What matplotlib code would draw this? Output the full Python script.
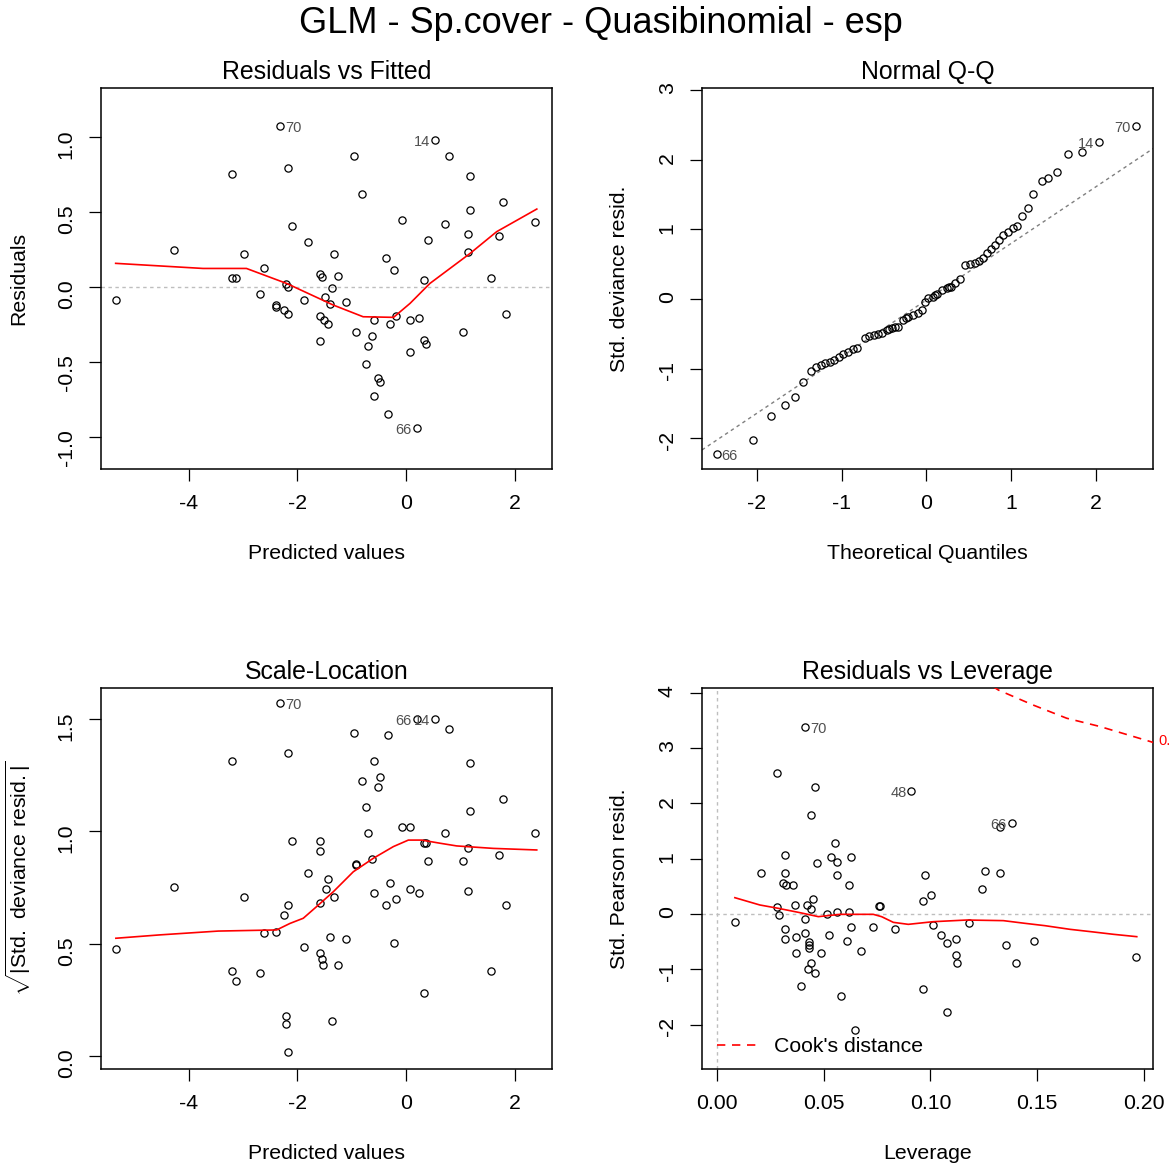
import numpy as np
import matplotlib
matplotlib.use('Agg')
import matplotlib.pyplot as plt
from matplotlib.lines import Line2D

plt.rcParams['font.family'] = ['Liberation Sans', 'DejaVu Sans']
plt.rcParams['mathtext.fontset'] = 'custom'
plt.rcParams['mathtext.rm'] = 'Liberation Sans'
plt.rcParams['axes.unicode_minus'] = False

# -------------------------------------------------------------------------
# Residuals vs Fitted
# -------------------------------------------------------------------------
fit1 = [-5.35, -4.28, -3.20, -3.20, -3.13, -2.99, -2.69, -2.62, -2.40, -2.40,
        -2.25, -2.17, -2.32, -2.17, -2.21, -2.17, -2.10, -1.88, -1.81, -1.59,
        -1.55, -1.585, -1.51, -1.44, -1.585, -1.50, -1.40, -1.36, -1.32, -1.25,
        -1.106, -0.952, -0.915, -0.805, -0.737, -0.694, -0.62, -0.59, -0.59, -0.516,
        -0.474, -0.369, -0.326, -0.289, -0.221, -0.178, -0.068, 0.074, 0.08, 0.197,
        0.233, 0.338, 0.338, 0.374, 0.411, 0.529, 0.713, 0.787, 1.045, 1.149,
        1.149, 1.186, 1.186, 1.56, 1.71, 1.78, 1.85, 2.37]
res1 = [-0.089, 0.247, 0.753, 0.06, 0.06, 0.22, -0.047, 0.127, -0.12, -0.13,
        -0.153, -0.18, 1.073, 0.793, 0.02, 0.0, 0.404, -0.089, 0.30, 0.087,
        0.069, -0.19, -0.22, -0.247, -0.358, -0.067, -0.113, -0.007, 0.22, 0.073,
        -0.102, 0.873, -0.30, 0.62, -0.516, -0.396, -0.329, -0.222, -0.729, -0.607,
        -0.633, 0.193, -0.849, -0.249, 0.111, -0.196, 0.447, -0.222, -0.436, -0.942,
        -0.209, 0.047, -0.351, -0.378, 0.313, 0.982, 0.42, 0.873, -0.30, 0.353,
        0.233, 0.74, 0.513, 0.06, 0.34, 0.567, -0.182, 0.433]
smooth1_x = [-5.35, -3.74, -2.94, -2.20, -1.34, -0.79, -0.23, 0.074, 0.44, 1.18, 1.67, 2.41]
smooth1_y = [0.158, 0.124, 0.124, 0.024, -0.12, -0.198, -0.202, -0.109, 0.024, 0.224, 0.369, 0.52]
ids1 = [('70', -2.32, 1.073, 'right'), ('14', 0.529, 0.982, 'left'), ('66', 0.197, -0.942, 'left')]

# -------------------------------------------------------------------------
# Normal Q-Q
# -------------------------------------------------------------------------
qq_x = [-2.476, -2.051, -1.835, -1.666, -1.552, -1.461, -1.366, -1.304, -1.249, -1.198,
        -1.139, -1.091, -1.029, -0.981, -0.923, -0.871, -0.816, -0.726, -0.675, -0.620,
        -0.569, -0.529, -0.470, -0.411, -0.372, -0.333, -0.274, -0.215, -0.156, -0.097,
        -0.057, -0.018, 0.021, 0.080, 0.127, 0.179, 0.238, 0.286, 0.336, 0.395,
        0.454, 0.513, 0.572, 0.620, 0.670, 0.710, 0.757, 0.808, 0.859, 0.906,
        0.965, 1.024, 1.071, 1.123, 1.201, 1.260, 1.359, 1.430, 1.543, 1.666,
        1.831, 2.039, 2.472, -0.445, -0.245, 0.105, 0.262]
qq_y = [-2.232, -2.030, -1.681, -1.518, -1.413, -1.197, -1.030, -0.972, -0.948, -0.924,
        -0.900, -0.876, -0.829, -0.795, -0.757, -0.723, -0.709, -0.565, -0.532, -0.517,
        -0.503, -0.493, -0.445, -0.421, -0.407, -0.398, -0.302, -0.254, -0.230, -0.205,
        -0.158, -0.039, 0.010, 0.033, 0.072, 0.129, 0.153, 0.177, 0.225, 0.283,
        0.489, 0.503, 0.515, 0.545, 0.585, 0.657, 0.714, 0.776, 0.848, 0.920,
        0.967, 1.016, 1.049, 1.193, 1.303, 1.509, 1.700, 1.734, 1.820, 2.079,
        2.112, 2.251, 2.481, -0.432, -0.275, 0.050, 0.165]
qq_line = [(-2.65, -2.17), (2.68, 2.165)]
ids2 = [('66', -2.476, -2.232, 'right'), ('14', 2.039, 2.251, 'left'), ('70', 2.472, 2.481, 'left')]

# -------------------------------------------------------------------------
# Scale-Location
# -------------------------------------------------------------------------
fit3 = [-5.346, -4.276, -3.201, -3.201, -3.134, -2.986, -2.685, -2.617, -2.390, -2.317,
        -2.249, -2.212, -2.212, -2.169, -2.169, -2.169, -2.101, -1.880, -1.806, -1.591,
        -1.585, -1.585, -1.585, -1.548, -1.536, -1.469, -1.438, -1.401, -1.358, -1.321,
        -1.253, -1.106, -0.952, -0.922, -0.922, -0.805, -0.737, -0.694, -0.620, -0.590,
        -0.590, -0.516, -0.473, -0.369, -0.326, -0.289, -0.221, -0.178, -0.068, 0.074,
        0.080, 0.197, 0.233, 0.338, 0.338, 0.374, 0.411, 0.529, 0.713, 0.787,
        1.045, 1.149, 1.149, 1.186, 1.186, 1.561, 1.708, 1.782, 1.849, 2.372]
sqrt_res3 = [0.475, 0.752, 1.311, 0.377, 0.332, 0.708, 0.368, 0.546, 0.553, 1.571,
             0.626, 0.179, 0.144, 0.019, 0.672, 1.347, 0.957, 0.484, 0.813, 0.957,
             0.912, 0.680, 0.458, 0.430, 0.405, 0.743, 0.788, 0.528, 0.154, 0.708,
             0.405, 0.519, 1.437, 0.854, 0.850, 1.222, 1.107, 0.992, 0.878, 1.313,
             0.724, 1.197, 1.242, 0.672, 1.429, 0.769, 0.503, 0.699, 1.019, 1.019,
             0.743, 1.500, 0.724, 0.280, 0.948, 0.948, 0.866, 1.500, 0.992, 1.455,
             0.866, 0.733, 0.927, 1.304, 1.090, 0.377, 0.893, 1.144, 0.672, 0.992]
smooth3_x = [-5.346, -4.535, -3.459, -2.384, -2.138, -1.893, -1.647, -1.340, -0.971,
             -0.602, -0.233, 0.043, 0.289, 0.627, 0.934, 1.610, 2.409]
smooth3_y = [0.524, 0.539, 0.556, 0.561, 0.590, 0.613, 0.665, 0.731, 0.820,
             0.880, 0.932, 0.961, 0.961, 0.947, 0.935, 0.924, 0.917]
ids3 = [('70', -2.317, 1.571, 'right'), ('66', 0.197, 1.500, 'left'), ('14', 0.529, 1.500, 'left')]

# -------------------------------------------------------------------------
# Residuals vs Leverage
# -------------------------------------------------------------------------
lev4 = [0.0084, 0.0205, 0.0280, 0.0283, 0.0292, 0.0320, 0.0320, 0.0311, 0.0323, 0.0357,
        0.0320, 0.0320, 0.0365, 0.0369, 0.0369, 0.0393, 0.0412, 0.0414, 0.0414, 0.0420,
        0.0431, 0.0431, 0.0431, 0.0440, 0.0440, 0.0440, 0.0451, 0.0459, 0.0459, 0.0470,
        0.0428, 0.0487, 0.0515, 0.0526, 0.0534, 0.0553, 0.0564, 0.0564, 0.0564, 0.0582,
        0.0609, 0.0620, 0.0620, 0.0629, 0.0629, 0.0648, 0.0676, 0.0731, 0.0757, 0.0765,
        0.0835, 0.0910, 0.0966, 0.0966, 0.0976, 0.1004, 0.1013, 0.1051, 0.1077, 0.1077,
        0.1118, 0.1118, 0.1126, 0.1182, 0.1240, 0.1257, 0.1324, 0.1324, 0.1380, 0.1352,
        0.1399, 0.1483, 0.1961]
pres4 = [-0.139, 0.736, 2.544, 0.132, -0.018, 1.061, 0.736, 0.555, 0.524, 0.524,
         -0.277, -0.458, 0.163, -0.416, -0.711, -1.296, 3.376, -0.096, -0.349, 0.163,
         -0.500, -0.561, -0.621, 0.084, -0.892, 1.790, 0.271, 2.291, -1.073, 0.916,
         -1.001, -0.711, 0.006, -0.380, 1.025, 1.278, 0.946, 0.700, 0.042, -1.477,
         -0.494, 0.519, 0.042, 1.025, -0.241, -2.092, -0.675, -0.241, 0.151, 0.151,
         -0.277, 2.219, -1.362, 0.229, 0.700, 0.338, -0.205, -0.386, -0.530, -1.766,
         -0.458, -0.747, -0.892, -0.169, 0.446, 0.772, 0.736, 1.568, 1.640, -0.566,
         -0.892, -0.494, -0.783]
smooth4_x = [0.0084, 0.0201, 0.0287, 0.0389, 0.0475, 0.0576, 0.0732, 0.0771, 0.0826, 0.0896,
             0.1013, 0.1169, 0.1341, 0.1443, 0.1536, 0.1653, 0.1763, 0.1856, 0.1966]
smooth4_y = [0.295, 0.163, 0.103, 0.024, -0.048, -0.006, -0.006, -0.048, -0.151, -0.187,
             -0.139, -0.109, -0.120, -0.169, -0.211, -0.277, -0.325, -0.367, -0.410]
cook_x = [0.129, 0.1318, 0.148, 0.1638, 0.1794, 0.2028, 0.206]
cook_y = [4.12, 4.05, 3.78, 3.54, 3.39, 3.12, 3.08]
ids4 = [('70', 0.0412, 3.376, 'right'), ('48', 0.0910, 2.219, 'left'), ('66', 0.1380, 1.640, 'left')]

FS = 15.3
RED = '#FF0000'


def r_style(ax):
    # R-like axes: outward ticks, y tick labels parallel to the axis
    ax.tick_params(direction='out', length=8.6, width=0.9, labelsize=FS, pad=9.5)
    ax.tick_params(axis='y', labelrotation=90)
    for s in ax.spines.values():
        s.set_linewidth(1.1)


def points(ax, x, y):
    ax.plot(x, y, 'o', mfc='none', mec='black', ms=5.2, mew=0.9, zorder=3)


def label_ids(ax, ids):
    for txt, x, y, side in ids:
        dx = 3.5 if side == 'right' else -3.5
        ax.annotate(txt, (x, y), xytext=(dx, -1.5), textcoords='offset points',
                    ha='left' if side == 'right' else 'right', va='center',
                    fontsize=10.5, color='#505050', annotation_clip=False)


def labels(ax, xlab, ylab, title):
    ax.set_title(title, fontsize=17.9, pad=6.5)
    ax.set_xlabel(xlab, fontsize=FS)
    ax.set_ylabel(ylab, fontsize=FS)
    ax.xaxis.set_label_coords(0.5, -0.222)
    ax.xaxis.label.set_va('center')
    ax.yaxis.set_label_coords(-0.183, 0.5)
    ax.yaxis.label.set_va('center')


fig = plt.figure(figsize=(11.69, 11.67), dpi=100)
W, H = 451 / 1169, 381 / 1167
L1, L2 = 101 / 1169, 702 / 1169
B1, B2 = 1 - 469 / 1167, 1 - 1069 / 1167

# ---- panel 1 ----
ax1 = fig.add_axes([L1, B1, W, H])
r_style(ax1)
ax1.axhline(0, color='#BEBEBE', lw=1.0, ls=(0, (2.5, 2.5)), zorder=1)
points(ax1, fit1, res1)
ax1.plot(smooth1_x, smooth1_y, color=RED, lw=1.2, zorder=4)
label_ids(ax1, ids1)
ax1.set_xlim(-5.62, 2.69)
ax1.set_ylim(-1.213, 1.327)
ax1.set_xticks([-4, -2, 0, 2])
ax1.set_yticks([-1.0, -0.5, 0.0, 0.5, 1.0])
ax1.set_yticklabels(['-1.0', '-0.5', '0.0', '0.5', '1.0'])
labels(ax1, 'Predicted values', 'Residuals', 'Residuals vs Fitted')

# ---- panel 2 ----
ax2 = fig.add_axes([L2, B1, W, H])
r_style(ax2)
ax2.axline(qq_line[0], qq_line[1], color='#7F7F7F', lw=1.0, ls=(0, (2.5, 2.5)), zorder=1)
points(ax2, qq_x, qq_y)
label_ids(ax2, ids2)
ax2.set_xlim(-2.649, 2.673)
ax2.set_ylim(-2.443, 3.03)
ax2.set_xticks([-2, -1, 0, 1, 2])
ax2.set_yticks([-2, -1, 0, 1, 2, 3])
labels(ax2, 'Theoretical Quantiles', 'Std. deviance resid.', 'Normal Q-Q')

# ---- panel 3 ----
ax3 = fig.add_axes([L1, B2, W, H])
r_style(ax3)
points(ax3, fit3, sqrt_res3)
ax3.plot(smooth3_x, smooth3_y, color=RED, lw=1.2, zorder=4)
label_ids(ax3, ids3)
ax3.set_xlim(-5.62, 2.69)
ax3.set_ylim(-0.058, 1.638)
ax3.set_xticks([-4, -2, 0, 2])
ax3.set_yticks([0.0, 0.5, 1.0, 1.5])
ax3.set_yticklabels(['0.0', '0.5', '1.0', '1.5'])
labels(ax3, 'Predicted values', r'$\sqrt{|\mathrm{Std.\ deviance\ resid.}|}$', 'Scale-Location')

# ---- panel 4 ----
ax4 = fig.add_axes([L2, B2, W, H])
r_style(ax4)
ax4.axhline(0, color='#BEBEBE', lw=1.0, ls=(0, (2.5, 2.5)), zorder=1)
ax4.axvline(0, color='#BEBEBE', lw=1.0, ls=(0, (2.5, 2.5)), zorder=1)
points(ax4, lev4, pres4)
ax4.plot(smooth4_x, smooth4_y, color=RED, lw=1.2, zorder=4)
ax4.plot(cook_x, cook_y, color=RED, lw=1.2, ls=(0, (5, 4)), zorder=4)
ax4.text(0.2066, 3.12, '0.5', color=RED, fontsize=10.5, ha='left', va='center', clip_on=False)
label_ids(ax4, ids4)
ax4.set_xlim(-0.007, 0.2042)
ax4.set_ylim(-2.803, 4.087)
ax4.set_xticks([0.0, 0.05, 0.10, 0.15, 0.20])
ax4.set_xticklabels(['0.00', '0.05', '0.10', '0.15', '0.20'])
ax4.set_yticks([-2, -1, 0, 1, 2, 3, 4])
labels(ax4, 'Leverage', 'Std. Pearson resid.', 'Residuals vs Leverage')
handle = Line2D([], [], color=RED, lw=1.2, ls=(0, (5, 4)))
ax4.legend([handle], ["Cook's distance"], loc='center left', bbox_to_anchor=(0.033, 0.058),
           frameon=False, fontsize=FS, handlelength=1.9, handletextpad=0.8,
           borderpad=0, borderaxespad=0)

fig.text(601 / 1169, 1 - 33 / 1167, 'GLM - Sp.cover - Quasibinomial - esp',
         ha='center', va='baseline', fontsize=26)

fig.savefig('out.png', dpi=100)
